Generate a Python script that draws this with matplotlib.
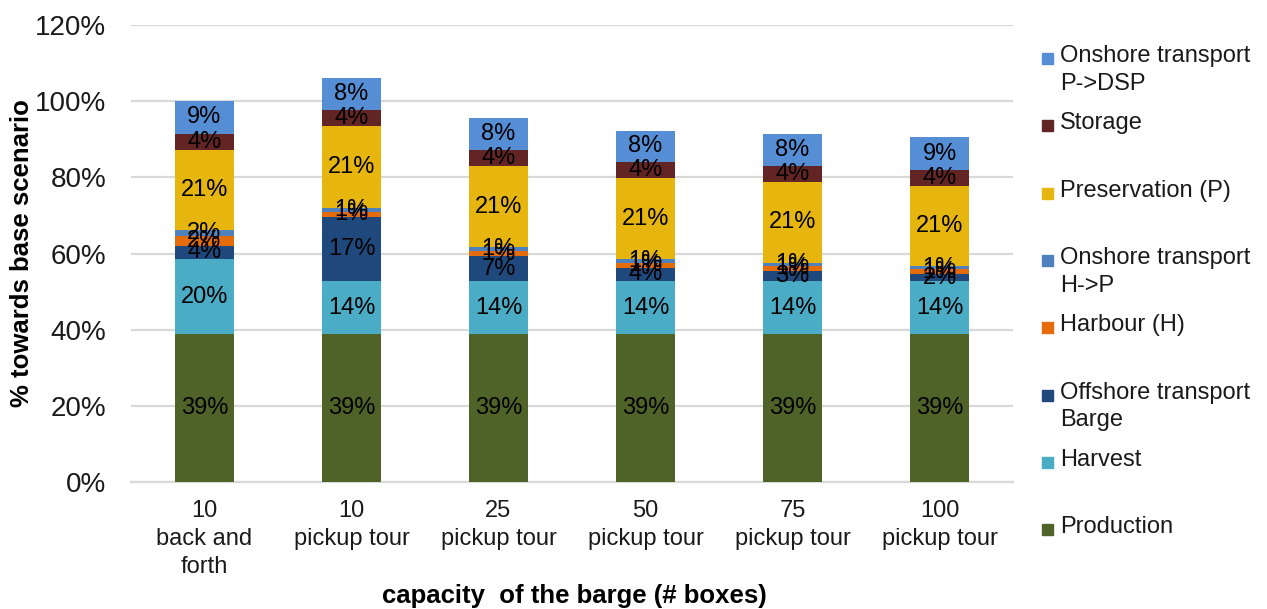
import numpy as np
import matplotlib
matplotlib.use("Agg")
import matplotlib.pyplot as plt
from matplotlib.patches import Rectangle

plt.rcParams['font.family'] = ['Liberation Sans', 'DejaVu Sans']

# categories (capacity of the barge / strategy)
categories = ["10\nback and\nforth", "10\npickup tour", "25\npickup tour",
              "50\npickup tour", "75\npickup tour", "100\npickup tour"]

# cost shares in % of base scenario, bottom to top
production = [38.9, 38.9, 38.9, 38.9, 38.9, 38.9]
harvest = [19.6, 13.8, 13.8, 13.8, 13.8, 13.8]
offshore_barge = [3.6, 17.0, 6.6, 3.6, 2.8, 1.8]
harbour = [2.4, 1.2, 1.3, 1.3, 1.2, 1.4]
onshore_hp = [1.7, 1.1, 1.0, 0.9, 0.9, 0.8]
preservation = [21.0, 21.4, 21.3, 21.2, 21.2, 20.9]
storage = [4.2, 4.4, 4.4, 4.3, 4.3, 4.3]
onshore_pdsp = [8.7, 8.4, 8.4, 8.2, 8.2, 8.6]

series = [
    ("Production", production, "#4F6228"),
    ("Harvest", harvest, "#4BACC6"),
    ("Offshore transport\nBarge", offshore_barge, "#1F497D"),
    ("Harbour (H)", harbour, "#E46C0A"),
    ("Onshore transport\nH->P", onshore_hp, "#4F81BD"),
    ("Preservation (P)", preservation, "#E6B60E"),
    ("Storage", storage, "#632523"),
    ("Onshore transport\nP->DSP", onshore_pdsp, "#558ED5"),
]

fig = plt.figure(figsize=(12.67, 6.09), dpi=100)
ax = fig.add_axes([131 / 1267, 1 - 482 / 609, (1013 - 131) / 1267, (482 - 25) / 609])

x = np.arange(len(categories))
bottom = np.zeros(len(categories))
for name, vals, color in series:
    bars = ax.bar(x, vals, width=0.4, bottom=bottom, color=color, label=name, zorder=3)
    ax.bar_label(bars, labels=[f"{v:.0f}%" for v in vals], label_type='center',
                 fontsize=17, color='black', zorder=4)
    bottom += np.array(vals)

ax.set_xlim(-0.5, len(categories) - 0.5)
ax.set_ylim(0, 120)
ax.set_yticks(np.arange(0, 121, 20))
ax.set_yticklabels([f"{v}%" for v in range(0, 121, 20)], fontsize=20)
ax.set_xticks(x)
ax.set_xticklabels(categories, fontsize=17, linespacing=1.36)
ax.tick_params(axis='both', length=0, colors='#1a1a1a')
ax.tick_params(axis='y', pad=18)
ax.tick_params(axis='x', pad=13)
ax.grid(axis='y', color='#D9D9D9', linewidth=1.6, zorder=0)
for s in ['top', 'right', 'left']:
    ax.spines[s].set_visible(False)
ax.spines['bottom'].set_color('#D9D9D9')
ax.spines['bottom'].set_linewidth(1.6)

ax.set_xlabel("capacity  of the barge (# boxes)", fontsize=18.5, fontweight='bold')
ax.xaxis.set_label_coords((574 - 131) / 882, -(596 - 482) / 457)
ax.xaxis.label.set_va('center')
ax.set_ylabel("% towards base scenario", fontsize=18.5, fontweight='bold')
ax.yaxis.set_label_coords((22 - 131) / 882, 0.5)
ax.yaxis.label.set_va('center')

# legend, top entry first, evenly spaced slots like the original
W, H = 1267, 609
for i, (name, vals, color) in enumerate(reversed(series)):
    ytop = 58 + 67.3 * i
    fig.add_artist(Rectangle((1042 / W, 1 - (ytop + 6) / H), 11 / W, 11 / H,
                             transform=fig.transFigure, color=color))
    fig.text(1060 / W, 1 - (ytop - 13) / H, name, fontsize=17, va='top', ha='left',
             linespacing=1.35, color='#1a1a1a')

fig.savefig("out.png", dpi=100)
